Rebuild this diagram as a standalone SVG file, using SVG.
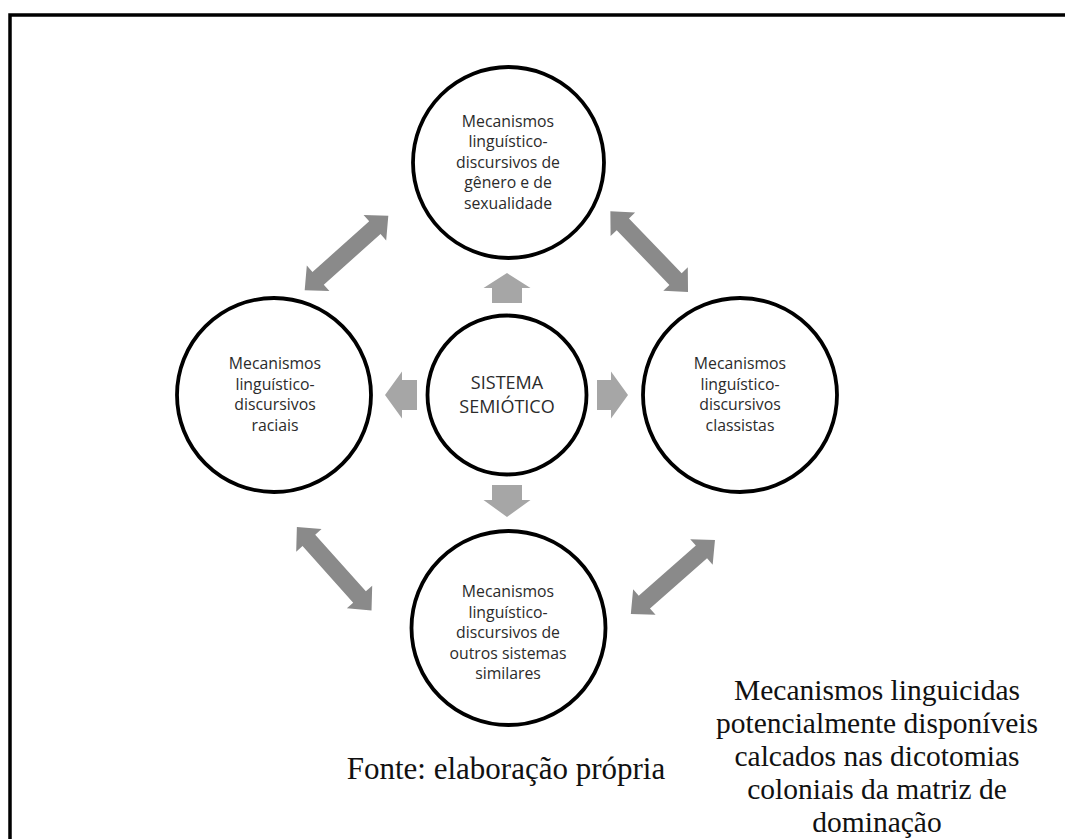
<svg xmlns="http://www.w3.org/2000/svg" width="1065" height="839" viewBox="0 0 1065 839">
  <style>
    .node { fill: #ffffff; stroke: #000000; stroke-width: 3.8; }
    .lbl { font-family: "Open Sans", "Noto Sans", "DejaVu Sans", sans-serif; font-size: 15.8px; fill: #2b2b2b; text-anchor: middle; }
    .core { font-size: 18px; }
    .serif { font-family: "Liberation Serif", "Times New Roman", serif; fill: #111111; text-anchor: middle; }
    .push { fill: #a6a6a6; }
    .link { fill: #8a8a8a; }
  </style>
  <defs>
    <!-- two-headed block arrow, centred on the origin, pointing along x -->
    <path id="dbl" d="M-56,0 L-38,-17 L-38,-8.5 L38,-8.5 L38,-17 L56,0 L38,17 L38,8.5 L-38,8.5 L-38,17 Z"/>
  </defs>

  <!-- frame -->
  <path d="M10,839 V15 H1065" fill="none" stroke="#000000" stroke-width="3.5"/>

  <g id="connectors">
    <!-- outward arrows from the central system -->
    <path class="push" d="M507,273 L530.5,288 L522,288 L522,303 L492,303 L492,288 L483.5,288 Z"/>
    <path class="push" d="M507,517 L530.5,500 L522,500 L522,485 L492,485 L492,500 L483.5,500 Z"/>
    <path class="push" d="M385,395 L402,371.5 L402,380 L417,380 L417,410 L402,410 L402,418.5 Z"/>
    <path class="push" d="M628,395 L611,371.5 L611,380 L597,380 L597,410 L611,410 L611,418.5 Z"/>
    <!-- two-way links between neighbouring mechanisms -->
    <use href="#dbl" class="link" transform="translate(346.5,253) rotate(-41.7)"/>
    <use href="#dbl" class="link" transform="translate(649.2,251.7) rotate(46.1)"/>
    <use href="#dbl" class="link" transform="translate(334.2,568.7) rotate(48.2)"/>
    <use href="#dbl" class="link" transform="translate(672.9,577) rotate(-41.3)"/>
  </g>

  <g id="node-genero">
    <circle class="node" cx="508.5" cy="162.5" r="95.5"/>
    <text class="lbl" x="508" y="126.5">Mecanismos</text>
    <text class="lbl" x="508" y="147">linguístico-</text>
    <text class="lbl" x="508" y="167.5">discursivos de</text>
    <text class="lbl" x="508" y="188">gênero e de</text>
    <text class="lbl" x="508" y="208.5">sexualidade</text>
  </g>

  <g id="node-raciais">
    <circle class="node" cx="274" cy="395" r="97"/>
    <text class="lbl" x="275" y="369">Mecanismos</text>
    <text class="lbl" x="275" y="389.5">linguístico-</text>
    <text class="lbl" x="275" y="410">discursivos</text>
    <text class="lbl" x="275" y="430.5">raciais</text>
  </g>

  <g id="node-sistema">
    <circle class="node" cx="507" cy="395" r="79.5"/>
    <text class="lbl core" x="507" y="389">SISTEMA</text>
    <text class="lbl core" x="507" y="413">SEMIÓTICO</text>
  </g>

  <g id="node-classistas">
    <circle class="node" cx="740" cy="395" r="97"/>
    <text class="lbl" x="740" y="369">Mecanismos</text>
    <text class="lbl" x="740" y="389.5">linguístico-</text>
    <text class="lbl" x="740" y="410">discursivos</text>
    <text class="lbl" x="740" y="430.5">classistas</text>
  </g>

  <g id="node-outros">
    <circle class="node" cx="508.5" cy="628" r="97"/>
    <text class="lbl" x="508" y="597">Mecanismos</text>
    <text class="lbl" x="508" y="617.5">linguístico-</text>
    <text class="lbl" x="508" y="638">discursivos de</text>
    <text class="lbl" x="508" y="658.5">outros sistemas</text>
    <text class="lbl" x="508" y="679">similares</text>
  </g>

  <g id="caption">
    <text class="serif" x="506" y="779" font-size="31">Fonte: elaboração própria</text>
    <text class="serif" x="877" y="700" font-size="29.5">Mecanismos linguicidas</text>
    <text class="serif" x="877" y="733" font-size="29.5">potencialmente disponíveis</text>
    <text class="serif" x="877" y="766" font-size="29.5">calcados nas dicotomias</text>
    <text class="serif" x="877" y="799" font-size="29.5">coloniais da matriz de</text>
    <text class="serif" x="877" y="832" font-size="29.5">dominação</text>
  </g>
</svg>
